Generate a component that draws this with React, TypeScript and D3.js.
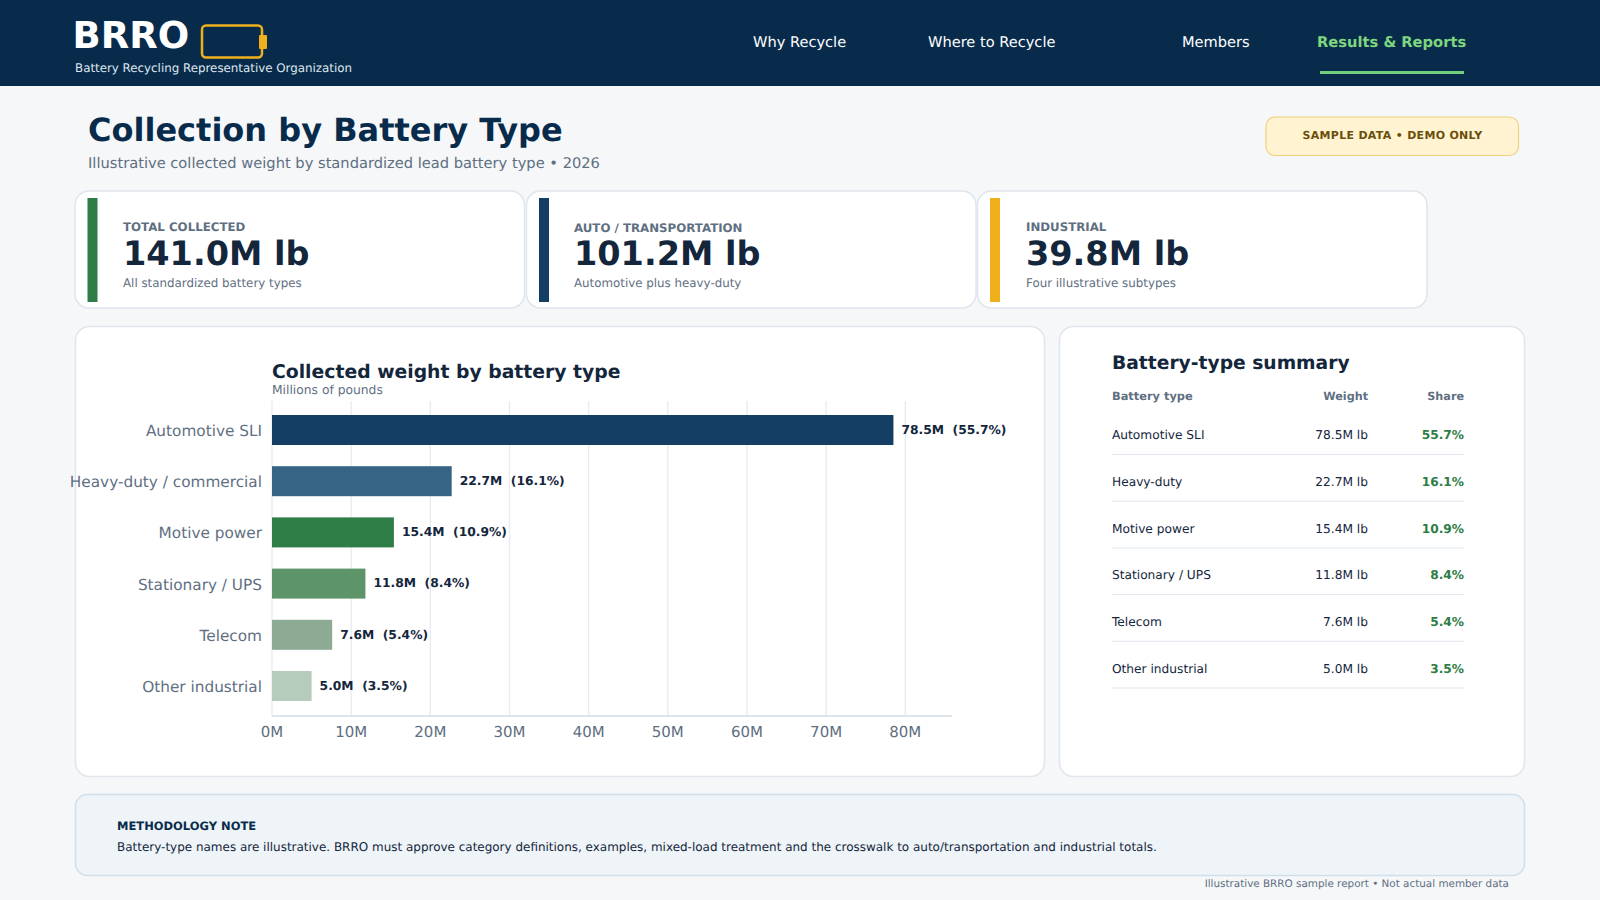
import React from "react";
import * as d3 from "d3";

const FONT = "'DejaVu Sans', sans-serif";
const categories = ["Automotive SLI", "Heavy-duty / commercial", "Motive power", "Stationary / UPS", "Telecom", "Other industrial"];
const tableNames = ["Automotive SLI", "Heavy-duty", "Motive power", "Stationary / UPS", "Telecom", "Other industrial"];
const weights = [78.5, 22.7, 15.4, 11.8, 7.6, 5.0];
const shares = [55.7, 16.1, 10.9, 8.4, 5.4, 3.5];
const barColors = ["#143e63", "#356484", "#2f7d46", "#5d9469", "#8dab94", "#b5cbbb"];
const xTickValues = [0, 10, 20, 30, 40, 50, 60, 70, 80];
const navLabels = ["Why Recycle", "Where to Recycle", "Members", "Results & Reports"];
const navX = [753, 928, 1182, 1317];
const kpiLabels = ["TOTAL COLLECTED", "AUTO / TRANSPORTATION", "INDUSTRIAL"];
const kpiValues = ["141.0M lb", "101.2M lb", "39.8M lb"];
const kpiNotes = ["All standardized battery types", "Automotive plus heavy-duty", "Four illustrative subtypes"];
const kpiColors = ["#2f7d46", "#143e63", "#f0b01e"];
const kpiCardX = [75, 526.5, 977.5];
const kpiTextX = [123, 574, 1026];
const kpiLabelY = [231, 232, 231];

const navy = "#082b4c";
const ink = "#14263c";
const muted = "#5f6f82";
const line = "#dfe6ed";

const x = d3.scaleLinear().domain([0, 85.9]).range([272, 952]);
const y = d3.scaleBand<string>().domain(categories).range([400.5, 715.5]).paddingInner(0.414).paddingOuter(0.283);
const rowY = d3.scaleLinear().domain([0, 5]).range([439, 673]);
const ruleY = d3.scaleLinear().domain([0, 5]).range([454.5, 688]);

export default function App() {
  return (
    <svg width={1600} height={900} viewBox="0 0 1600 900" fontFamily={FONT} textRendering="geometricPrecision"
      style={{ position: "absolute", left: 0, top: 0, display: "block" }}>
      <rect width={1600} height={900} fill="#f5f7f9" />
      <rect width={1600} height={86} fill={navy} />
      <text x={72.5} y={47.5} fontSize={37} fontWeight={700} fill="#fff">BRRO</text>
      <rect x={202} y={25.5} width={60} height={32} rx={4} fill="none" stroke="#f0b01e" strokeWidth={2.5} />
      <rect x={259} y={35} width={8} height={14} rx={1} fill="#f0b01e" />
      <text x={75} y={71.5} fontSize={11.85} fill="#dfe7ee">Battery Recycling Representative Organization</text>
      {navLabels.map((t, i) => (
        <text key={t} x={navX[i]} y={47} fontSize={i === 3 ? 14.7 : 14.6} fontWeight={i === 3 ? 700 : 400} fill={i === 3 ? "#7ed67e" : "#fff"}>{t}</text>
      ))}
      <rect x={1320} y={71} width={144} height={3} fill="#6fcf7b" />

      <text x={88} y={141} fontSize={32} fontWeight={700} fill={navy}>Collection by Battery Type</text>
      <text x={88} y={168} fontSize={14.67} fill={muted}>Illustrative collected weight by standardized lead battery type • 2026</text>
      <rect x={1266} y={117} width={252.5} height={38.5} rx={9} fill="#fff3d1" stroke="#f0d27a" strokeWidth={1.2} />
      <text x={1392.5} y={139} fontSize={11} fontWeight={700} letterSpacing={0.3} textAnchor="middle" fill="#6b4e0a">SAMPLE DATA • DEMO ONLY</text>

      {kpiLabels.map((t, i) => (
        <g key={t}>
          <rect x={kpiCardX[i]} y={191} width={449.5} height={117} rx={14} fill="#fff" stroke={line} strokeWidth={1.5} />
          <rect x={kpiCardX[i] + 12.5} y={198} width={10} height={104} fill={kpiColors[i]} />
          <text x={kpiTextX[i]} y={kpiLabelY[i]} fontSize={11.8} fontWeight={700} fill={muted}>{t}</text>
          <text x={kpiTextX[i]} y={265} fontSize={33.5} fontWeight={700} fill={ink}>{kpiValues[i]}</text>
          <text x={kpiTextX[i]} y={287} fontSize={11.85} fill={muted}>{kpiNotes[i]}</text>
        </g>
      ))}

      <rect x={75.5} y={326.5} width={969} height={450} rx={14} fill="#fff" stroke={line} strokeWidth={1.5} />
      <rect x={1059.5} y={326.5} width={465} height={450} rx={14} fill="#fff" stroke={line} strokeWidth={1.5} />

      <text x={272} y={378} fontSize={18.8} fontWeight={700} fill={ink}>Collected weight by battery type</text>
      <text x={272} y={394} fontSize={12.3} fill={muted}>Millions of pounds</text>
      {xTickValues.map((v) => (
        <line key={v} x1={x(v)} x2={x(v)} y1={401} y2={716} stroke="#e8ecf1" strokeWidth={1.4} />
      ))}
      {categories.map((c, i) => (
        <g key={c}>
          <rect x={x(0)} y={y(c)} width={x(weights[i]) - x(0)} height={y.bandwidth()} fill={barColors[i]} />
          <text x={262} y={(y(c) as number) + y.bandwidth() / 2 + 6} fontSize={15.3} textAnchor="end" fill={muted}>{c}</text>
          <text x={x(weights[i]) + 8} y={(y(c) as number) + y.bandwidth() / 2 + 3.8} fontSize={12.3} fontWeight={700} fill={ink} style={{ whiteSpace: "pre" }}>
            {`${weights[i].toFixed(1)}M  (${shares[i].toFixed(1)}%)`}
          </text>
        </g>
      ))}
      <line x1={272} x2={952} y1={716} y2={716} stroke="#d5dee6" strokeWidth={1.5} />
      {xTickValues.map((v) => (
        <text key={v} x={x(v)} y={737} fontSize={15} textAnchor="middle" fill={muted}>{`${v}M`}</text>
      ))}

      <text x={1112} y={369} fontSize={18.7} fontWeight={700} fill={ink}>Battery-type summary</text>
      <text x={1112} y={400} fontSize={11.4} fontWeight={700} fill={muted}>Battery type</text>
      <text x={1368} y={400} fontSize={11.2} fontWeight={700} fill={muted} textAnchor="end">Weight</text>
      <text x={1464} y={400} fontSize={11.2} fontWeight={700} fill={muted} textAnchor="end">Share</text>
      {tableNames.map((n, i) => (
        <g key={n}>
          <text x={1112} y={rowY(i)} fontSize={12.2} fill={ink}>{n}</text>
          <text x={1368} y={rowY(i)} fontSize={12.2} fill={ink} textAnchor="end">{`${weights[i].toFixed(1)}M lb`}</text>
          <text x={1464} y={rowY(i)} fontSize={12.2} fontWeight={700} fill="#2f7d46" textAnchor="end">{`${shares[i].toFixed(1)}%`}</text>
          <line x1={1112} x2={1464} y1={ruleY(i)} y2={ruleY(i)} stroke={line} strokeWidth={1} />
        </g>
      ))}

      <rect x={75.5} y={794.5} width={1449} height={81} rx={12} fill="#eff4f8" stroke="#d0dfea" strokeWidth={1.5} />
      <text x={117} y={830} fontSize={11.5} fontWeight={700} fill={navy}>METHODOLOGY NOTE</text>
      <text x={117} y={851} fontSize={11.97} fill={ink}>Battery-type names are illustrative. BRRO must approve category definitions, examples, mixed-load treatment and the crosswalk to auto/transportation and industrial totals.</text>
      <text x={1509} y={887} fontSize={10.4} textAnchor="end" fill={muted}>Illustrative BRRO sample report • Not actual member data</text>
    </svg>
  );
}
